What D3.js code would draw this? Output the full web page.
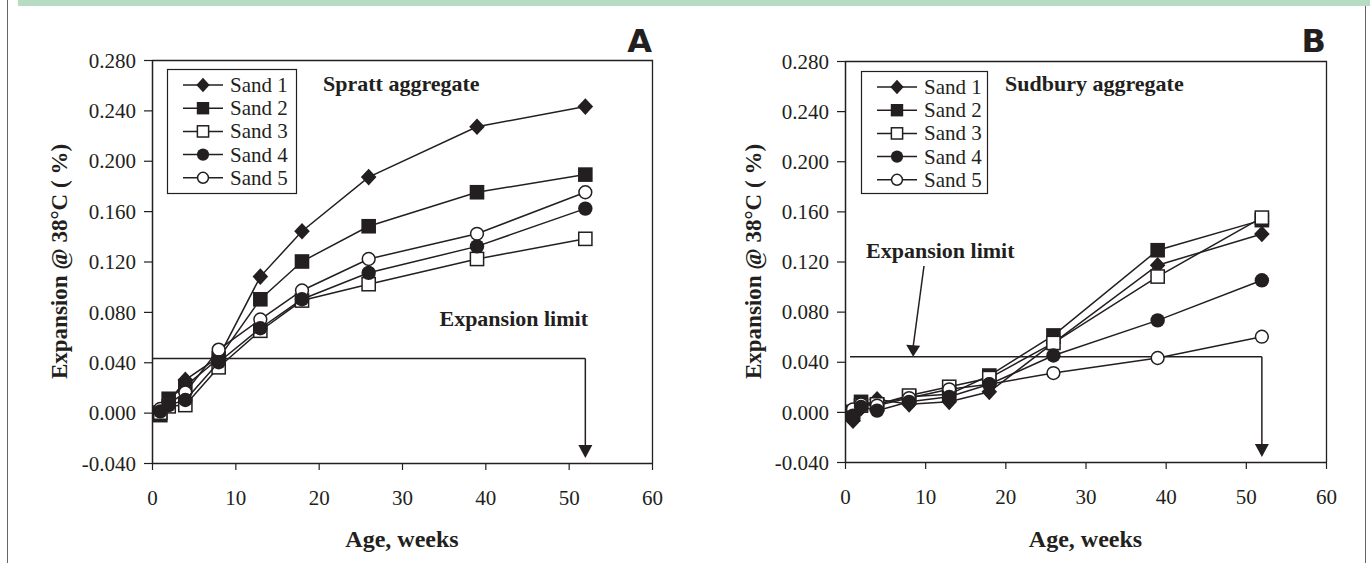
<!DOCTYPE html>
<html>
<head>
<meta charset="utf-8">
<script src="https://cdn.jsdelivr.net/npm/d3@7"></script>
<style>
  body { margin: 0; background: #fff; }
  svg { display: block; }
</style>
</head>
<body>
<svg id="chart" width="1370" height="563"></svg>
<script>
// measurement ages (weeks)
var weeks = [1, 2, 4, 8, 13, 18, 26, 39, 52];
var sandNames = ["Sand 1", "Sand 2", "Sand 3", "Sand 4", "Sand 5"];
var markerTypes = ["diamond", "square", "openSquare", "circle", "openCircle"];

// panel A - Spratt aggregate, expansion (%)
var spratt1 = [0.000, 0.008, 0.026, 0.044, 0.108, 0.144, 0.187, 0.227, 0.243];
var spratt2 = [-0.002, 0.011, 0.021, 0.043, 0.090, 0.120, 0.148, 0.175, 0.189];
var spratt3 = [0.000, 0.005, 0.006, 0.036, 0.065, 0.089, 0.102, 0.122, 0.138];
var spratt4 = [0.001, 0.006, 0.010, 0.040, 0.067, 0.090, 0.111, 0.132, 0.162];
var spratt5 = [0.003, 0.007, 0.016, 0.050, 0.074, 0.097, 0.122, 0.142, 0.175];

// panel B - Sudbury aggregate, expansion (%)
var sudbury1 = [-0.007, 0.003, 0.010, 0.006, 0.008, 0.016, 0.055, 0.117, 0.142];
var sudbury2 = [-0.002, 0.008, 0.006, 0.012, 0.014, 0.029, 0.061, 0.129, 0.153];
var sudbury3 = [0.000, 0.005, 0.006, 0.013, 0.020, 0.027, 0.055, 0.108, 0.155];
var sudbury4 = [-0.003, 0.004, 0.001, 0.008, 0.012, 0.022, 0.045, 0.073, 0.105];
var sudbury5 = [0.002, 0.006, 0.005, 0.011, 0.018, 0.022, 0.031, 0.043, 0.060];

var xTicks = [0, 10, 20, 30, 40, 50, 60];
var yTicks = [-0.04, 0, 0.04, 0.08, 0.12, 0.16, 0.2, 0.24, 0.28];
var limitA = 0.043;
var limitB = 0.044;

var ink = "#231f20";
var serif = "'Times New Roman', 'Liberation Serif', Tinos, Times, 'DejaVu Serif', serif";
var svg = d3.select("#chart");

// top band and frame
svg.append("rect").attr("x", 18).attr("y", 0).attr("width", 1352).attr("height", 6)
   .attr("fill", "#b7dcc4");
svg.append("line").attr("x1", 7.5).attr("x2", 7.5).attr("y1", 0).attr("y2", 563)
   .attr("stroke", "#666").attr("stroke-width", 1);
svg.append("line").attr("x1", 1365.5).attr("x2", 1365.5).attr("y1", 6).attr("y2", 563)
   .attr("stroke", "#666").attr("stroke-width", 1);

function drawMarker(g, type, x, y, s) {
    s = s || 1;
    if (type === "diamond") {
        var h = 7.8 * s;
        g.append("path")
         .attr("d", `M${x},${y - h - 0.5}L${x + h},${y}L${x},${y + h + 0.5}L${x - h},${y}Z`)
         .attr("fill", ink);
    } else if (type === "square") {
        var a = 7.3 * s;
        g.append("rect").attr("x", x - a).attr("y", y - a).attr("width", 2 * a).attr("height", 2 * a)
         .attr("fill", ink);
    } else if (type === "openSquare") {
        var b = 6.6 * s;
        g.append("rect").attr("x", x - b).attr("y", y - b).attr("width", 2 * b).attr("height", 2 * b)
         .attr("fill", "#fff").attr("stroke", ink).attr("stroke-width", 1.5);
    } else if (type === "circle") {
        g.append("circle").attr("cx", x).attr("cy", y).attr("r", 7.2 * s).attr("fill", ink);
    } else {
        g.append("circle").attr("cx", x).attr("cy", y).attr("r", 6.4 * s)
         .attr("fill", "#fff").attr("stroke", ink).attr("stroke-width", 1.5);
    }
}

function label(g, txt, size, bold) {
    return g.append("text")
        .attr("font-family", serif)
        .attr("font-size", size)
        .attr("font-weight", bold ? "bold" : "normal")
        .attr("fill", ink)
        .text(txt);
}

function drawPanel(p) {
    var g = svg.append("g");
    var xScale = d3.scaleLinear().domain([0, 60]).range([p.left, p.right]);
    var yScale = d3.scaleLinear().domain([-0.04, 0.28]).range([p.bottom, p.top]);

    // plot frame (top and right)
    g.append("path")
     .attr("d", `M${p.left},${p.top + 0.5}H${p.right + 0.5}V${p.bottom}`)
     .attr("fill", "none").attr("stroke", ink).attr("stroke-width", 1.3);

    var xAxis = d3.axisBottom(xScale).tickValues(xTicks).tickSize(7).tickSizeOuter(0);
    var yAxis = d3.axisLeft(yScale).tickValues(yTicks).tickSize(8).tickSizeOuter(0);

    var gx = g.append("g").attr("transform", `translate(0,${p.bottom})`).call(xAxis);
    var gy = g.append("g").attr("transform", `translate(${p.left},0)`).call(yAxis);
    [gx, gy].forEach(function(a) {
        a.attr("font-family", serif).attr("font-size", 21);
        a.select(".domain").attr("stroke", ink).attr("stroke-width", 1.5);
        a.selectAll(".tick line").attr("stroke", ink).attr("stroke-width", 1.2);
        a.selectAll(".tick text").attr("fill", ink);
    });
    gx.selectAll(".tick text").attr("dy", 0).attr("y", 42);
    gy.selectAll(".tick text").attr("x", -16).attr("dy", "0.34em")
      .text(function(d) { return d3.format(".3f")(d).replace("−", "-"); });

    // axis titles
    label(g, "Age, weeks", 24, true)
     .attr("x", (p.left + p.right) / 2).attr("y", 547)
     .attr("text-anchor", "middle");
    label(g, "Expansion @ 38°C ( %)", 23, true)
     .attr("transform", `translate(${p.yTitleX},${(p.top + p.bottom) / 2}) rotate(-90)`)
     .attr("text-anchor", "middle");

    // panel letter
    g.append("text")
     .attr("x", p.right).attr("y", 52).attr("text-anchor", "end")
     .attr("font-family", "'DejaVu Sans', sans-serif").attr("font-weight", "bold")
     .attr("font-size", 32).attr("fill", ink)
     .text(p.letter);

    // aggregate label
    label(g, p.aggregate, 22, true).attr("x", p.aggX).attr("y", 91);

    // expansion limit line + arrow
    var ly = yScale(p.limit);
    var ax = xScale(52);
    g.append("line").attr("x1", p.limitStart).attr("x2", ax).attr("y1", ly).attr("y2", ly)
     .attr("stroke", ink).attr("stroke-width", 1.5);
    g.append("line").attr("x1", ax).attr("x2", ax).attr("y1", ly).attr("y2", p.bottom - 14)
     .attr("stroke", ink).attr("stroke-width", 1.5);
    g.append("path")
     .attr("d", `M${ax - 7},${p.bottom - 18}L${ax + 7},${p.bottom - 18}L${ax},${p.bottom - 5}Z`)
     .attr("fill", ink);

    label(g, "Expansion limit", 22, true)
     .attr("x", p.limitTextX).attr("y", p.limitTextY).attr("text-anchor", p.limitAnchor);

    if (p.pointer) {
        var tipX = xScale(p.pointer[1]);
        g.append("line").attr("x1", p.pointer[0]).attr("y1", p.limitTextY + 8)
         .attr("x2", tipX).attr("y2", ly - 10)
         .attr("stroke", ink).attr("stroke-width", 1.5);
        g.append("path")
         .attr("d", `M${tipX - 7},${ly - 12}L${tipX + 7},${ly - 11}L${tipX},${ly}Z`)
         .attr("fill", ink);
    }

    // data series
    var line = d3.line()
        .x(function(d, i) { return xScale(weeks[i]); })
        .y(function(d) { return yScale(d); });

    [0, 1, 2, 4, 3].forEach(function(k) {
        var vals = p.series[k];
        g.append("path").attr("d", line(vals))
         .attr("fill", "none").attr("stroke", ink).attr("stroke-width", 1.5);
        vals.forEach(function(v, i) {
            drawMarker(g, markerTypes[k], xScale(weeks[i]), yScale(v));
        });
    });

    // legend
    var lg = g.append("g");
    lg.append("rect")
      .attr("x", p.legend.x + 0.5).attr("y", p.legend.y + 0.5)
      .attr("width", p.legend.w).attr("height", p.legend.h)
      .attr("fill", "#fff").attr("stroke", ink).attr("stroke-width", 1.2);
    sandNames.forEach(function(name, k) {
        var ry = p.legend.y + 16 + k * 23.2;
        var lx = p.legend.x + 16;
        lg.append("line").attr("x1", lx).attr("x2", lx + 40).attr("y1", ry).attr("y2", ry)
          .attr("stroke", ink).attr("stroke-width", 1.5);
        drawMarker(lg, markerTypes[k], lx + 20, ry, 0.85);
        label(lg, name, 21, false).attr("x", lx + 47).attr("y", ry).attr("dy", "0.33em");
    });
}

drawPanel({
    letter: "A", aggregate: "Spratt aggregate", aggX: 323,
    left: 152, right: 652, top: 60, bottom: 463,
    yTitleX: 67,
    series: [spratt1, spratt2, spratt3, spratt4, spratt5],
    limit: limitA, limitStart: 152,
    limitTextX: 588, limitTextY: 326, limitAnchor: "end",
    legend: { x: 167, y: 69, w: 129, h: 124 }
});

drawPanel({
    letter: "B", aggregate: "Sudbury aggregate", aggX: 1005,
    left: 845, right: 1326, top: 61, bottom: 462,
    yTitleX: 761,
    series: [sudbury1, sudbury2, sudbury3, sudbury4, sudbury5],
    limit: limitB, limitStart: 850,
    limitTextX: 866, limitTextY: 258, limitAnchor: "start",
    pointer: [924, 8.5],
    legend: { x: 861, y: 71, w: 126, h: 122 }
});
</script>
</body>
</html>
